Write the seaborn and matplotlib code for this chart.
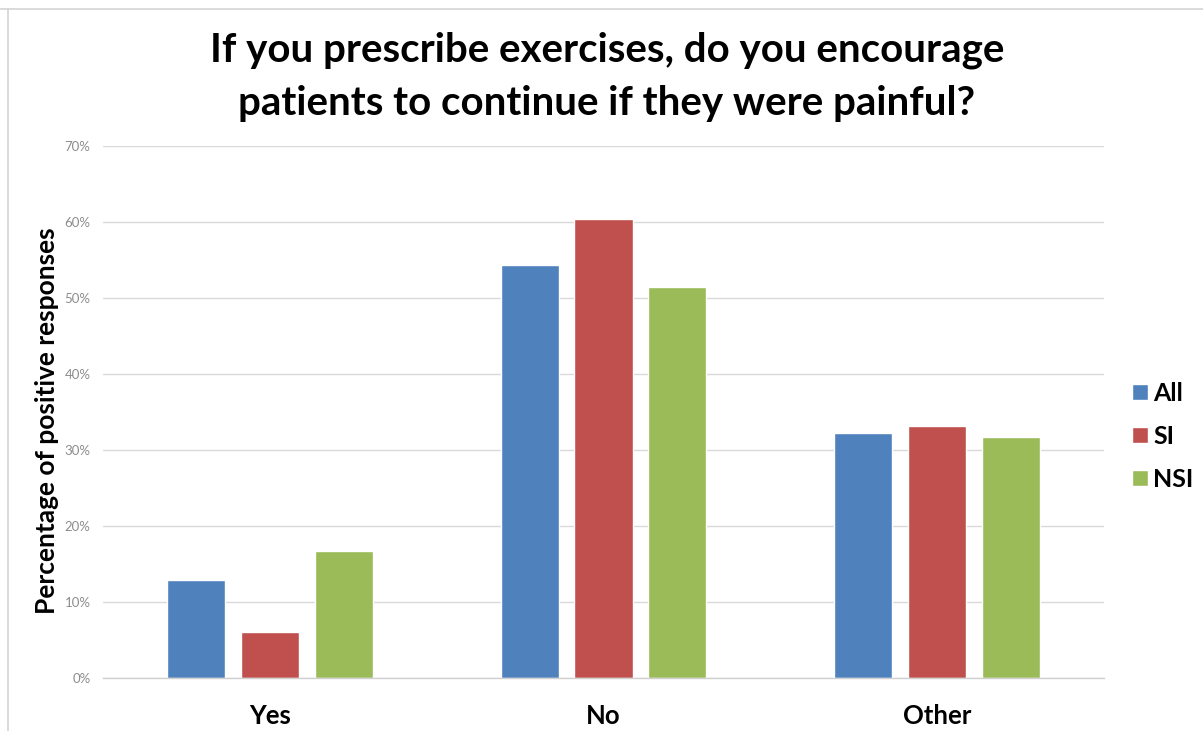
import matplotlib
matplotlib.use("Agg")
import matplotlib.pyplot as plt
from matplotlib.lines import Line2D
import seaborn as sns
import pandas as pd

# Survey answers and the share (%) of each group that gave them
answers = ["Yes", "No", "Other"]
groups = ["All", "SI", "NSI"]
all_pct = [12.9, 54.3, 32.2]
si_pct = [6.0, 60.4, 33.2]
nsi_pct = [16.7, 51.4, 31.7]
y_ticks = [0, 10, 20, 30, 40, 50, 60, 70]
y_tick_labels = ["0%", "10%", "20%", "30%", "40%", "50%", "60%", "70%"]

colors = {"All": "#4F81BD", "SI": "#C0504D", "NSI": "#9BBB59"}

rows = []
for grp, vals in zip(groups, [all_pct, si_pct, nsi_pct]):
    for ans, v in zip(answers, vals):
        rows.append({"answer": ans, "group": grp, "pct": v})
df = pd.DataFrame(rows)

sns.set_theme(style="white")
plt.rcParams["font.family"] = ["Lato", "DejaVu Sans"]

fig = plt.figure(figsize=(12.03, 7.31), dpi=100)
ax = fig.add_axes([103 / 1203, 1 - 678 / 731, (1104 - 103) / 1203, (678 - 146) / 731])

sns.barplot(data=df, x="answer", y="pct", hue="group", order=answers,
            hue_order=groups, palette=colors, width=0.665, gap=0.215,
            saturation=1, ax=ax, legend=True)

ax.set_ylim(0, 70)
ax.set_xlim(-0.5, 2.5)
ax.set_yticks(y_ticks)
ax.set_yticklabels(y_tick_labels, fontsize=9.5, color="#8C8C8C")
ax.yaxis.grid(True, color="#D9D9D9", linewidth=1)
ax.set_axisbelow(True)
for s in ["left", "right", "top"]:
    ax.spines[s].set_visible(False)
ax.spines["bottom"].set_color("#D0D0D0")
ax.spines["bottom"].set_linewidth(1)
ax.tick_params(axis="y", length=0, pad=9)
ax.tick_params(axis="x", which="major", length=0, pad=19)
ax.set_xticks([-0.5, 0.5, 1.5, 2.5], minor=True)
ax.tick_params(axis="x", which="minor", length=9, color="#D0D0D0", width=1)
for lbl in ax.get_xticklabels():
    lbl.set_fontsize(18.5)
    lbl.set_fontweight("bold")
    lbl.set_color("black")

ax.set_xlabel("")
ax.set_ylabel("Percentage of positive responses", fontsize=19,
              fontweight="bold", color="black")
ax.yaxis.set_label_coords((47 - 103) / (1104 - 103), (678 - 421) / (678 - 146))
ax.yaxis.label.set_va("center")

handles, labels = ax.get_legend_handles_labels()
ax.legend(handles, labels, loc="center left",
          bbox_to_anchor=(1132 / 1203, 1 - 436 / 731),
          bbox_transform=fig.transFigure, frameon=False,
          borderpad=0, borderaxespad=0,
          prop={"weight": "bold", "size": 18}, handlelength=0.62, handleheight=0.62,
          handletextpad=0.22, labelspacing=0.8, labelcolor="black")

fig.text(607 / 1203, 1 - 50 / 731, "If you prescribe exercises, do you encourage",
         ha="center", va="center", fontsize=29, fontweight="bold", color="black")
fig.text(607 / 1203, 1 - 103 / 731, "patients to continue if they were painful?",
         ha="center", va="center", fontsize=29, fontweight="bold", color="black")

# light frame lines along the top and left edges
fig.add_artist(Line2D([0, 1], [1 - 8.5 / 731, 1 - 8.5 / 731], transform=fig.transFigure,
                      color="#D4D4D4", linewidth=1.2))
fig.add_artist(Line2D([7.5 / 1203, 7.5 / 1203], [0, 1 - 8.5 / 731], transform=fig.transFigure,
                      color="#D4D4D4", linewidth=1.2))

fig.savefig("out.png", dpi=100, facecolor="white")
